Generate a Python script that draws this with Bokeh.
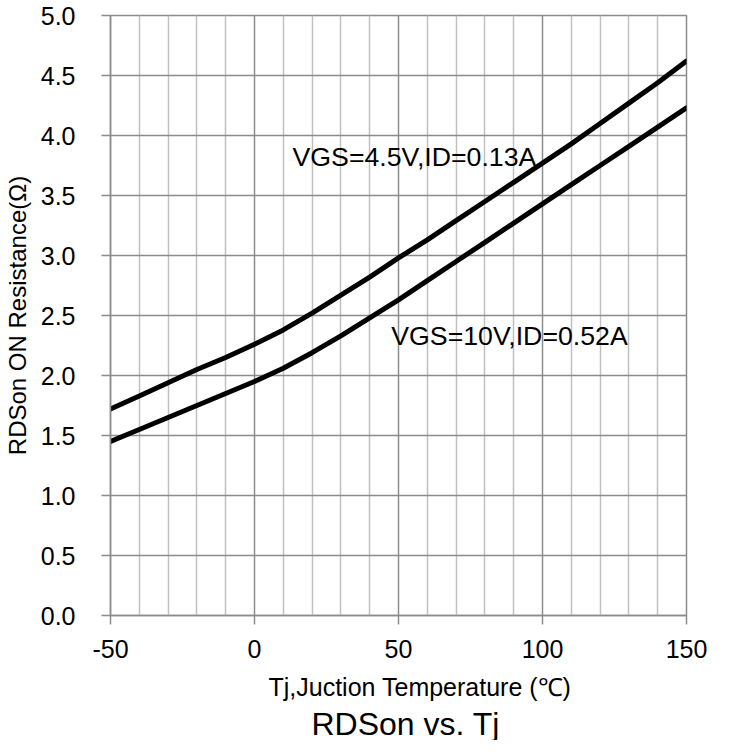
from bokeh.plotting import figure
from bokeh.models import Range1d, FixedTicker, Title, Label
from bokeh.embed import file_html
from bokeh.resources import INLINE

# ---- data ----
temps = [-50, -40, -30, -20, -10, 0, 10, 20, 30, 40, 50, 60, 70, 80, 90, 100, 110, 120, 130, 140, 150]
rds_vgs45 = [1.72, 1.83, 1.94, 2.05, 2.15, 2.26, 2.38, 2.52, 2.67, 2.82, 2.98,
             3.13, 3.29, 3.45, 3.61, 3.77, 3.93, 4.10, 4.27, 4.44, 4.62]
rds_vgs10 = [1.45, 1.55, 1.65, 1.75, 1.85, 1.95, 2.06, 2.19, 2.33, 2.48, 2.63,
             2.79, 2.95, 3.11, 3.27, 3.43, 3.59, 3.75, 3.91, 4.07, 4.23]
x_major = [-50, 0, 50, 100, 150]
x_major_labels = ["-50", "0", "50", "100", "150"]
x_minor = [-40, -30, -20, -10, 10, 20, 30, 40, 60, 70, 80, 90, 110, 120, 130, 140]
y_ticks = [0.0, 0.5, 1.0, 1.5, 2.0, 2.5, 3.0, 3.5, 4.0, 4.5, 5.0]
y_tick_labels = ["0.0", "0.5", "1.0", "1.5", "2.0", "2.5", "3.0", "3.5", "4.0", "4.5", "5.0"]
label_45 = "VGS=4.5V,ID=0.13A"
label_10 = "VGS=10V,ID=0.52A"
x_title = "Tj,Juction Temperature (\u2103)"
y_title = "RDSon ON Resistance(\u03a9)"
chart_title = "RDSon vs. Tj"

FONT = "Liberation Sans"
GRID_MAJOR = "#8c8c8c"
GRID_MINOR = "#c0c0c0"

p = figure(width=720, height=740, output_backend="svg", toolbar_location=None,
           x_range=Range1d(-50, 150), y_range=Range1d(0, 5),
           min_border_left=108, min_border_right=34, min_border_top=15, min_border_bottom=125)
p.background_fill_color = "white"
p.border_fill_color = "white"
p.outline_line_color = GRID_MAJOR
p.outline_line_width = 1.5

# axes
p.xaxis.ticker = FixedTicker(ticks=x_major, minor_ticks=x_minor)
p.xaxis.major_label_overrides = {v: s for v, s in zip(x_major, x_major_labels)}
p.yaxis.ticker = FixedTicker(ticks=y_ticks)
p.yaxis.major_label_overrides = {v: s for v, s in zip(y_ticks, y_tick_labels)}
for ax in (p.xaxis[0], p.yaxis[0]):
    ax.axis_line_color = GRID_MAJOR
    ax.axis_line_width = 1.5
    ax.major_tick_line_color = GRID_MAJOR
    ax.major_tick_line_width = 1.5
    ax.major_tick_out = 9
    ax.major_tick_in = 0
    ax.minor_tick_line_color = None
    ax.major_label_text_font = FONT
    ax.major_label_text_font_size = "25px"
    ax.major_label_text_color = "black"
p.xaxis.major_label_standoff = 15
p.yaxis.major_label_standoff = 26
p.yaxis.axis_label = y_title
p.yaxis.axis_label_text_font = FONT
p.yaxis.axis_label_text_font_size = "24px"
p.yaxis.axis_label_text_font_style = "normal"
p.yaxis.axis_label_text_color = "black"
p.yaxis.axis_label_standoff = 7

# grids
p.xgrid.grid_line_color = GRID_MAJOR
p.xgrid.grid_line_width = 1.5
p.xgrid.minor_grid_line_color = GRID_MINOR
p.xgrid.minor_grid_line_width = 1.5
p.ygrid.grid_line_color = GRID_MAJOR
p.ygrid.grid_line_width = 1.5

# curves
p.line(temps, rds_vgs45, line_color="black", line_width=5, line_cap="round", line_join="round")
p.line(temps, rds_vgs10, line_color="black", line_width=5, line_cap="round", line_join="round")

# annotations (anchored at the middle of the text)
p.add_layout(Label(x=13.2, y=3.825, text=label_45, text_font=FONT, text_font_size="26.7px",
                   text_baseline="middle", text_align="left", text_color="black"))
p.add_layout(Label(x=47.5, y=2.333, text=label_10, text_font=FONT, text_font_size="26.7px",
                   text_baseline="middle", text_align="left", text_color="black"))

# below titles
t1 = Title(text=x_title, text_font=FONT, text_font_size="25px", text_font_style="normal",
           align="left", offset=158, standoff=20, text_color="black")
p.add_layout(t1, "below")
t2 = Title(text=chart_title, text_font=FONT, text_font_size="32px", text_font_style="normal",
           align="left", offset=201, standoff=-14, text_color="black")
p.add_layout(t2, "below")

open("out.html", "w").write(file_html(p, INLINE))
